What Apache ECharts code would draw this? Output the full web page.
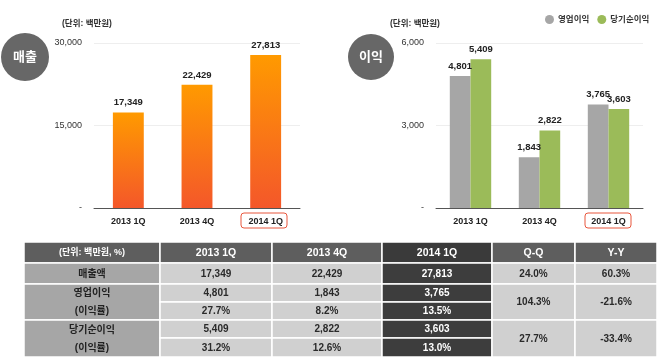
<!DOCTYPE html>
<html><head><meta charset="utf-8">
<script src="https://cdn.jsdelivr.net/npm/echarts@6/dist/echarts.min.js"></script>
<style>html,body{margin:0;padding:0;background:#fff}#c{width:660px;height:362px}</style>
</head><body><div id="c"></div>
<script>
const categories = ['2013 1Q', '2013 4Q', '2014 1Q'];
const revenue = [17349, 22429, 27813];
const operatingProfit = [4801, 1843, 3765];
const netProfit = [5409, 2822, 3603];
const seriesNames = ['영업이익', '당기순이익'];
const unitLabel = '(단위: 백만원)';
const circleLabels = ['매출', '이익'];
const tableHeader = ['(단위: 백만원, %)', '2013 1Q', '2013 4Q', '2014 1Q', 'Q-Q', 'Y-Y'];
const rowLabels = ['매출액', '영업이익', '(이익률)', '당기순이익', '(이익률)'];
const opMargin = ['27.7%', '8.2%', '13.5%'];
const netMargin = ['31.2%', '12.6%', '13.0%'];
const qq = ['24.0%', '104.3%', '27.7%'];
const yy = ['60.3%', '-21.6%', '-33.4%'];

const FF = "'Liberation Sans','Noto Sans CJK KR',sans-serif";
const fmt = v => v === 0 ? '-' : v.toLocaleString('en-US');

const chart = echarts.init(document.getElementById('c'));

// ---- table graphics ----
const colX = [24, 160, 272, 382, 492, 575, 657];
const rowY = [242, 263, 284, 302, 320, 338, 357];
const g = [];
function cell(c0, c1, r0, r1, fill, texts, color, size, weight) {
  g.push({type: 'rect', shape: {x: colX[c0], y: rowY[r0], width: colX[c1] - colX[c0], height: rowY[r1] - rowY[r0]},
    style: {fill: fill, stroke: '#fff', lineWidth: 1.5}, z: 10});
  const n = texts.length;
  texts.forEach((t, i) => {
    const h = (rowY[r1] - rowY[r0]) / n;
    g.push({type: 'text', x: (colX[c0] + colX[c1]) / 2, y: rowY[r0] + h * i + h / 2 + 0.5, z: 11,
      style: {text: t, fill: color, font: (weight || 'bold') + ' ' + size + 'px ' + FF, align: 'center', verticalAlign: 'middle'}});
  });
}
// header
tableHeader.forEach((h, i) => {
  cell(i, i + 1, 0, 1, i === 3 ? '#3a3a3a' : '#5e5e5e', [h], '#fff', i === 0 ? 9 : 10.5, 'bold');
});
// row labels
cell(0, 1, 1, 2, '#a6a6a6', [rowLabels[0]], '#222', 10, 'bold');
cell(0, 1, 2, 4, '#a6a6a6', [rowLabels[1], rowLabels[2]], '#222', 10, 'bold');
cell(0, 1, 4, 6, '#a6a6a6', [rowLabels[3], rowLabels[4]], '#222', 10, 'bold');
// data
for (let k = 0; k < 3; k++) {
  const col = k + 1;
  const fill = k === 2 ? '#3d3d3d' : '#d0d0d0';
  const color = k === 2 ? '#fff' : '#2a2a2a';
  const vals = [fmt(revenue[k]), fmt(operatingProfit[k]), opMargin[k], fmt(netProfit[k]), netMargin[k]];
  vals.forEach((v, r) => cell(col, col + 1, r + 1, r + 2, fill, [v], color, 10));
}
// Q-Q, Y-Y
[[qq, 4], [yy, 5]].forEach(([arr, col]) => {
  cell(col, col + 1, 1, 2, '#d0d0d0', [arr[0]], '#2a2a2a', 10);
  cell(col, col + 1, 2, 4, '#d0d0d0', [arr[1]], '#2a2a2a', 10);
  cell(col, col + 1, 4, 6, '#d0d0d0', [arr[2]], '#2a2a2a', 10);
});

// circles, unit labels, highlight boxes
[[25, 57, 24, circleLabels[0]], [371, 57, 23, circleLabels[1]]].forEach(([cx, cy, r, t]) => {
  g.push({type: 'circle', shape: {cx: cx, cy: cy, r: r}, style: {fill: '#676767'}});
  g.push({type: 'text', x: cx, y: cy, style: {text: t, fill: '#fff', font: 'bold 13px ' + FF, align: 'center', verticalAlign: 'middle'}});
});
[[62, 24], [390, 24]].forEach(([x, y]) => {
  g.push({type: 'text', x: x, y: y, style: {text: unitLabel, fill: '#333', font: 'bold 8.5px ' + FF, align: 'left', verticalAlign: 'middle'}});
});
[[241, 213], [585, 213]].forEach(([x, y]) => {
  g.push({type: 'rect', shape: {x: x, y: y, width: 46, height: 15, r: 3}, style: {fill: 'none', stroke: '#e8563d', lineWidth: 1}});
});

const labelStyle = {show: true, position: 'top', distance: 5, fontFamily: FF, fontWeight: 'bold', fontSize: 9.5, color: '#222', formatter: p => fmt(p.value)};
const axisLabelX = {fontFamily: FF, fontWeight: 'bold', fontSize: 9, color: '#222', margin: 9};
const axisLabelY = {fontFamily: FF, fontSize: 9, color: '#333', margin: 12, formatter: v => fmt(v)};

chart.setOption({
  animation: false,
  textStyle: {fontFamily: FF},
  legend: {data: seriesNames, orient: 'horizontal', left: 545, top: 15, padding: 0, width: 115, icon: 'circle', itemWidth: 9, itemHeight: 9, itemGap: 8,
    textStyle: {fontFamily: FF, fontWeight: 'bold', fontSize: 8.5, color: '#333', padding: [0, 0, 0, -1]}},
  grid: [
    {left: 94, top: 43, width: 206, height: 165},
    {left: 436, top: 43, width: 207, height: 165}
  ],
  xAxis: [
    {type: 'category', gridIndex: 0, data: categories, axisTick: {show: false}, axisLine: {lineStyle: {color: '#555', width: 1}}, axisLabel: axisLabelX},
    {type: 'category', gridIndex: 1, data: categories, axisTick: {show: false}, axisLine: {lineStyle: {color: '#555', width: 1}}, axisLabel: axisLabelX}
  ],
  yAxis: [
    {type: 'value', gridIndex: 0, min: 0, max: 30000, interval: 15000, axisLine: {show: false}, axisTick: {show: false}, splitLine: {lineStyle: {color: '#eeeeee'}}, axisLabel: axisLabelY},
    {type: 'value', gridIndex: 1, min: 0, max: 6000, interval: 3000, axisLine: {show: false}, axisTick: {show: false}, splitLine: {lineStyle: {color: '#eeeeee'}}, axisLabel: axisLabelY}
  ],
  series: [
    {type: 'bar', name: '매출', xAxisIndex: 0, yAxisIndex: 0, data: revenue, barWidth: '45%',
      itemStyle: {color: new echarts.graphic.LinearGradient(0, 0, 0, 1, [{offset: 0, color: '#ff9a00'}, {offset: 1, color: '#f4572a'}])},
      label: labelStyle},
    {type: 'bar', name: seriesNames[0], xAxisIndex: 1, yAxisIndex: 1, data: operatingProfit, barWidth: '30%', barGap: '0%',
      itemStyle: {color: '#a6a6a6'}, label: labelStyle},
    {type: 'bar', name: seriesNames[1], xAxisIndex: 1, yAxisIndex: 1, data: netProfit, barWidth: '30%', barGap: '0%',
      itemStyle: {color: '#9bbb59'}, label: labelStyle}
  ],
  graphic: g
});
</script></body></html>
